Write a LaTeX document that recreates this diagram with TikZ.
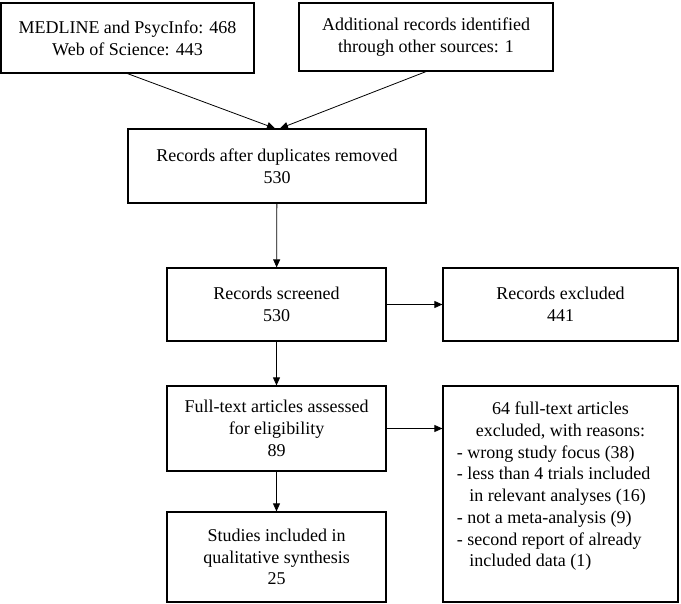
\documentclass[tikz,border=0pt]{standalone}
\usepackage{fontspec}
\setmainfont{Liberation Serif}
\usetikzlibrary{arrows.meta}
\begin{document}
\begin{tikzpicture}[x=1pt,y=-1pt,line width=1.2pt,
      kasten/.style={draw, rectangle, inner sep=0pt, align=center,
        font=\fontsize{18}{21.7}\selectfont},
      pfeil/.style={line width=0.8pt, -{Triangle[length=8pt,width=7pt]}}]
    \useasboundingbox (0,0) rectangle (681,604);
    \node[kasten, minimum width=253pt, minimum height=70pt] at (127.5,38) (B1) {MEDLINE and PsycInfo: 468\\Web of Science: 443};
    \node[kasten, minimum width=254pt, minimum height=68pt] at (426,37) (B2) {Additional records identified\\through other sources: 1};
    \node[kasten, minimum width=298pt, minimum height=74pt] at (277,166) (B3) {Records after duplicates removed\\530};
    \node[kasten, minimum width=219pt, minimum height=73pt] at (276.5,304.5) (B4) {Records screened\\530};
    \node[kasten, minimum width=235pt, minimum height=73pt] at (560.5,304.5) (B5) {Records excluded\\441};
    \node[kasten, minimum width=219pt, minimum height=85pt] at (276.5,428.5) (B6) {Full-text articles assessed\\for eligibility\\89};
    \node[kasten, minimum width=219pt, minimum height=90pt] at (276.5,557) (B7) {Studies included in\\qualitative synthesis\\25};
    \node[kasten, minimum width=235pt, minimum height=216pt] at (560.5,494) (B8) {\begin{tabular}{@{}l@{\hspace{14pt}}}
        \multicolumn{1}{@{}c@{}}{64 full-text articles}\\
        \multicolumn{1}{@{}c@{}}{excluded, with reasons:}\\
        - wrong study focus (38)\\
        - less than 4 trials included\\
        \hspace{0.7em}in relevant analyses (16)\\
        - not a meta-analysis (9)\\
        - second report of already\\
        \hspace{0.7em}included data (1)\\[15pt]
      \end{tabular}};
    \draw[pfeil] (B1.south) -- ([xshift=-2pt]B3.north);
    \draw[pfeil] (B2.south) -- ([xshift=3pt]B3.north);
    \draw[pfeil] (B3) -- (B4);
    \draw[pfeil] (B4) -- (B5);
    \draw[pfeil] (B4) -- (B6);
    \draw[pfeil] (B6.east) -- (B6.east -| B8.west);
    \draw[pfeil] (B6) -- (B7);
  \end{tikzpicture}
\end{document}
